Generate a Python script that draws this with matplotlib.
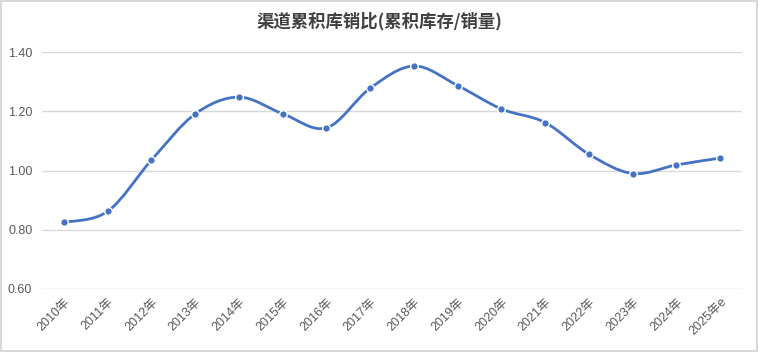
import numpy as np
import matplotlib.pyplot as plt
from matplotlib.path import Path
from matplotlib.patches import PathPatch

# data
years = ['2010年', '2011年', '2012年', '2013年', '2014年', '2015年', '2016年', '2017年',
         '2018年', '2019年', '2020年', '2021年', '2022年', '2023年', '2024年', '2025年e']
ratio = [0.825, 0.862, 1.035, 1.191, 1.248, 1.192, 1.144, 1.278,
         1.353, 1.287, 1.208, 1.162, 1.055, 0.990, 1.019, 1.042]

line_color = '#4472C4'
fonts = ['Liberation Sans', 'Noto Sans CJK SC', 'DejaVu Sans']
plt.rcParams['font.family'] = fonts

fig = plt.figure(figsize=(7.58, 3.52), dpi=100)
fig.patch.set_edgecolor('#d9d9d9')
fig.patch.set_linewidth(1.5)
ax = fig.add_axes([0.0554, 0.179, 0.9236, 0.673])

x = np.arange(len(years))
y = np.array(ratio)

# smoothed line like the spreadsheet one: bezier segments through the points
verts = [(x[0], y[0])]
codes = [Path.MOVETO]
n = len(x)
for i in range(n - 1):
    p0 = np.array([x[max(i - 1, 0)], y[max(i - 1, 0)]])
    p1 = np.array([x[i], y[i]])
    p2 = np.array([x[i + 1], y[i + 1]])
    p3 = np.array([x[min(i + 2, n - 1)], y[min(i + 2, n - 1)]])
    c1 = p1 + (p2 - p0) / 6
    c2 = p2 - (p3 - p1) / 6
    verts += [tuple(c1), tuple(c2), tuple(p2)]
    codes += [Path.CURVE4] * 3
ax.add_patch(PathPatch(Path(verts, codes), facecolor='none', edgecolor=line_color,
                       linewidth=2.0, capstyle='round', joinstyle='round', zorder=3))
ax.plot(x, y, linestyle='none', marker='o', markersize=5.5, color=line_color,
        markeredgecolor='white', markeredgewidth=1.0, zorder=4)

ax.set_xlim(-0.5, n - 0.5)
ax.set_ylim(0.6, 1.4)
ax.set_yticks([0.6, 0.8, 1.0, 1.2, 1.4])
ax.set_yticklabels(['0.60', '0.80', '1.00', '1.20', '1.40'])
ax.set_xticks(x)
ax.set_xticklabels(years, rotation=45, ha='right', rotation_mode='anchor')
ax.tick_params(axis='both', length=0, labelsize=9, labelcolor='#595959')
ax.tick_params(axis='x', pad=5)
ax.tick_params(axis='y', pad=7)
ax.grid(axis='y', color='#d9d9d9', linewidth=1)
ax.set_axisbelow(True)
for s in ax.spines.values():
    s.set_visible(False)

fig.text(0.5, 0.94, '渠道累积库销比(累积库存/销量)', ha='center', va='center',
         fontsize=12.5, fontweight='bold', color='#404040',
         family=['Noto Sans CJK SC', 'DejaVu Sans'])

fig.savefig('out.png', dpi=100)
